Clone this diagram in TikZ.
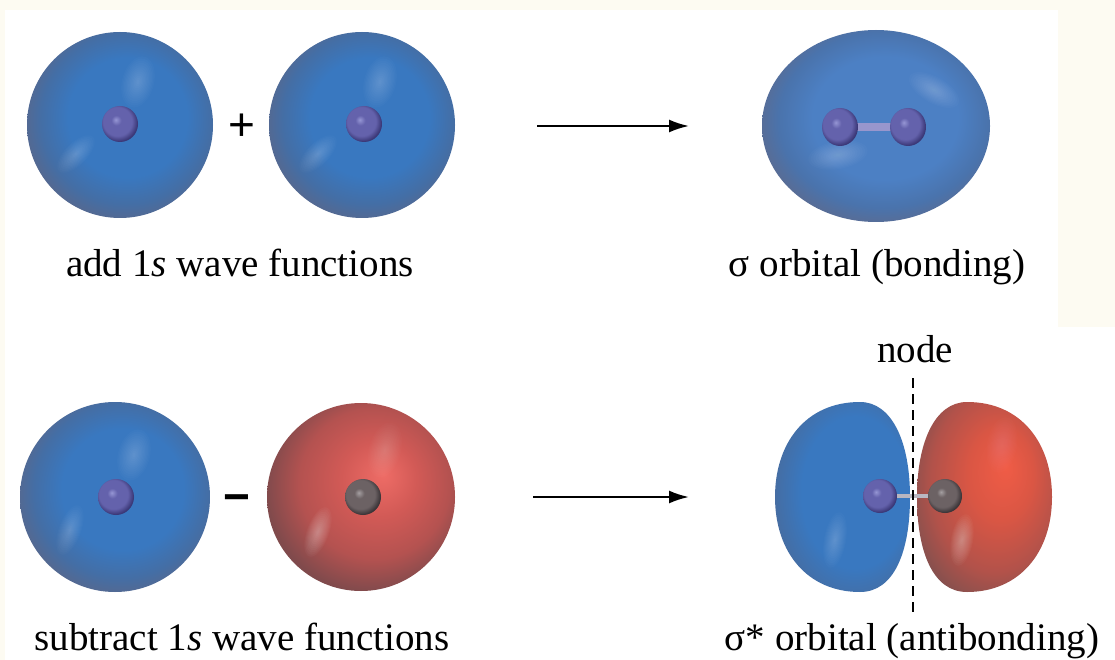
\documentclass[tikz,border=0pt]{standalone}
\usepackage{fontspec}
\setmainfont{Liberation Serif}
\newfontfamily\signfont{Liberation Sans}
\usetikzlibrary{arrows.meta}

% page colours
\definecolor{bgcream}{RGB}{253,251,242}
% 1s orbital (positive phase)
\definecolor{orbBlue}{RGB}{57,120,192}
\definecolor{orbBlueMid}{RGB}{68,110,165}
\definecolor{orbBlueRim}{RGB}{92,102,135}
% sigma bonding orbital
\definecolor{sigBlue}{RGB}{76,128,196}
\definecolor{sigBlueMid}{RGB}{74,115,172}
\definecolor{sigBlueRim}{RGB}{95,105,138}
% 1s orbital (negative phase)
\definecolor{redHi}{RGB}{238,108,102}
\definecolor{redMain}{RGB}{210,90,86}
\definecolor{redMid}{RGB}{180,82,80}
\definecolor{redRim}{RGB}{128,74,76}
% antibonding lobes
\definecolor{lobeRedHi}{RGB}{240,92,70}
\definecolor{lobeRedMain}{RGB}{218,86,68}
\definecolor{lobeRedMid}{RGB}{178,82,74}
\definecolor{lobeRedRim}{RGB}{132,80,78}
% nuclei and bonds
\definecolor{nucHi}{RGB}{150,150,212}
\definecolor{nucMain}{RGB}{100,98,172}
\definecolor{nucRim}{RGB}{58,55,118}
\definecolor{gnucHi}{RGB}{165,160,162}
\definecolor{gnucMain}{RGB}{108,98,100}
\definecolor{gnucRim}{RGB}{58,52,55}
\definecolor{rodBlue}{RGB}{152,150,205}
\definecolor{rodGray}{RGB}{185,182,192}

\pgfdeclareradialshading{blueBall}{\pgfpoint{3bp}{3bp}}{color(0bp)=(orbBlue); color(16bp)=(orbBlue); color(23bp)=(orbBlueMid); color(29bp)=(orbBlueRim); color(50bp)=(orbBlueRim)}
\pgfdeclareradialshading{sigmaBall}{\pgfpoint{3bp}{3bp}}{color(0bp)=(sigBlue); color(16bp)=(sigBlue); color(23bp)=(sigBlueMid); color(29bp)=(sigBlueRim); color(50bp)=(sigBlueRim)}
\pgfdeclareradialshading{redBall}{\pgfpoint{6bp}{6bp}}{color(0bp)=(redHi); color(10bp)=(redMain); color(20bp)=(redMid); color(28bp)=(redRim); color(50bp)=(redRim)}
\pgfdeclareradialshading{blueLobe}{\pgfpoint{8bp}{2bp}}{color(0bp)=(orbBlue); color(20bp)=(orbBlue); color(28bp)=(orbBlueMid); color(34bp)=(orbBlueRim); color(50bp)=(orbBlueRim)}
\pgfdeclareradialshading{redLobe}{\pgfpoint{8bp}{8bp}}{color(0bp)=(lobeRedHi); color(12bp)=(lobeRedMain); color(24bp)=(lobeRedMid); color(32bp)=(lobeRedRim); color(50bp)=(lobeRedRim)}
\pgfdeclareradialshading{nucBlue}{\pgfpoint{-6bp}{6bp}}{color(0bp)=(nucHi); color(7bp)=(nucMain); color(20bp)=(nucMain); color(27bp)=(nucRim); color(50bp)=(nucRim)}
\pgfdeclareradialshading{nucGray}{\pgfpoint{-6bp}{6bp}}{color(0bp)=(gnucHi); color(7bp)=(gnucMain); color(20bp)=(gnucMain); color(27bp)=(gnucRim); color(50bp)=(gnucRim)}

% soft highlight: colour, x, y, x radius, y radius, angle, opacity per layer
\newcommand\orbglow[7]{%
  \foreach \k in {1,...,12}{%
    \fill[#1, opacity=#7, rotate around={#6:(#2,#3)}]
      (#2,#3) ellipse [x radius={#4*\k/12}, y radius={#5*\k/12}];}}

\begin{document}
\begin{tikzpicture}[x=1pt,y=-1pt,
  lbl/.style={font=\fontsize{39}{45}\selectfont, inner sep=0pt, anchor=base},
  sign/.style={font=\signfont\fontsize{46}{50}\selectfont, inner sep=0pt, anchor=base},
  minussign/.style={font=\signfont\bfseries\fontsize{46}{50}\selectfont, inner sep=0pt, anchor=base},
  arr/.style={line width=2.2pt, -{Latex[length=20pt,width=13pt]}},
  nodeline/.style={line width=2.4pt, dash pattern=on 10pt off 6pt},
  rodA/.style={line width=8pt, rodBlue},
  rodB/.style={line width=4pt, rodGray}]

% background
\fill[bgcream] (0,0) rectangle (1115,660);
\fill[white] (5,10) rectangle (1058,660);
\fill[white] (1058,327) rectangle (1115,660);
\useasboundingbox (0,0) rectangle (1115,660);

% ---------- top row: adding the 1s wave functions ----------
\shade[shading=blueBall] (120,125) circle [radius=93];
\orbglow{white}{138}{82}{16}{26}{-15}{0.018}
\orbglow{white}{76}{154}{24}{11}{45}{0.02}
\shade[shading=nucBlue] (120,124) circle [radius=18];

\shade[shading=blueBall] (362,125) circle [radius=93];
\orbglow{white}{380}{82}{16}{26}{-15}{0.018}
\orbglow{white}{318}{154}{24}{11}{45}{0.02}
\shade[shading=nucBlue] (364,124) circle [radius=18];

\node[sign] (plus) at (242,141) {+};

\coordinate (a1s) at (537,126);
\coordinate (a1e) at (689,126);
\draw[arr] (a1s) -- (a1e);

% sigma bonding orbital
\shade[shading=sigmaBall] (876,126) ellipse [x radius=114, y radius=96];
\orbglow{white}{934}{90}{28}{13}{-30}{0.02}
\orbglow{white}{838}{155}{30}{14}{10}{0.02}
\coordinate (bn1) at (840,127);
\coordinate (bn2) at (908,127);
\draw[rodA] (bn1) -- (bn2);
\shade[shading=nucBlue] (bn1) ellipse [x radius=18, y radius=19];
\shade[shading=nucBlue] (bn2) ellipse [x radius=18, y radius=19];

\node[lbl] (addlbl) at (240,276) {add 1\textit{s} wave functions};
\node[lbl] (siglbl) at (877,276) {σ orbital (bonding)};

% ---------- bottom row: subtracting the 1s wave functions ----------
\shade[shading=blueBall] (115,497) circle [radius=95];
\orbglow{white}{134}{455}{16}{26}{-15}{0.018}
\orbglow{white}{70}{530}{11}{26}{-20}{0.02}
\shade[shading=nucBlue] (116,497) circle [radius=18];

\node[minussign] (minus) at (237,512) {−};

\shade[shading=redBall] (361,497) circle [radius=94];
\orbglow{white}{385}{450}{16}{28}{-15}{0.015}
\orbglow{white}{318}{532}{11}{26}{-20}{0.03}
\shade[shading=nucGray] (363,497) circle [radius=18];

\coordinate (a2s) at (533,497);
\coordinate (a2e) at (689,497);
\draw[arr] (a2s) -- (a2e);

% sigma* antibonding orbital: two lobes of opposite phase
\shade[shading=blueLobe] (860,402) .. controls (805,402) and (775,444) .. (775,497)
  .. controls (775,553) and (808,592) .. (860,592)
  .. controls (894,592) and (910,552) .. (910,497)
  .. controls (910,442) and (892,402) .. (860,402) -- cycle;
\orbglow{white}{835}{540}{11}{28}{-10}{0.018}
\shade[shading=redLobe] (967,402) .. controls (1022,402) and (1052,444) .. (1052,497)
  .. controls (1052,553) and (1019,592) .. (967,592)
  .. controls (933,592) and (917,552) .. (917,497)
  .. controls (917,442) and (935,402) .. (967,402) -- cycle;
\orbglow{white}{962}{540}{11}{26}{-10}{0.03}
\orbglow{white}{1002}{445}{15}{28}{-10}{0.012}

\coordinate (an1) at (880,496);
\coordinate (an2) at (945,496);
\draw[rodB] (an1) -- (an2);
\shade[shading=nucBlue] (an1) circle [radius=17];
\shade[shading=nucGray] (an2) circle [radius=17];

% nodal plane
\node[lbl] (nodelbl) at (915,362) {node};
\coordinate (ndtop) at (913,378);
\coordinate (ndbot) at (913,614);
\draw[nodeline] (ndtop) -- (ndbot);

\node[lbl] (sublbl) at (242,650) {subtract 1\textit{s} wave functions};
\node[lbl] (sigslbl) at (912,650) {σ* orbital (antibonding)};
\end{tikzpicture}
\end{document}
